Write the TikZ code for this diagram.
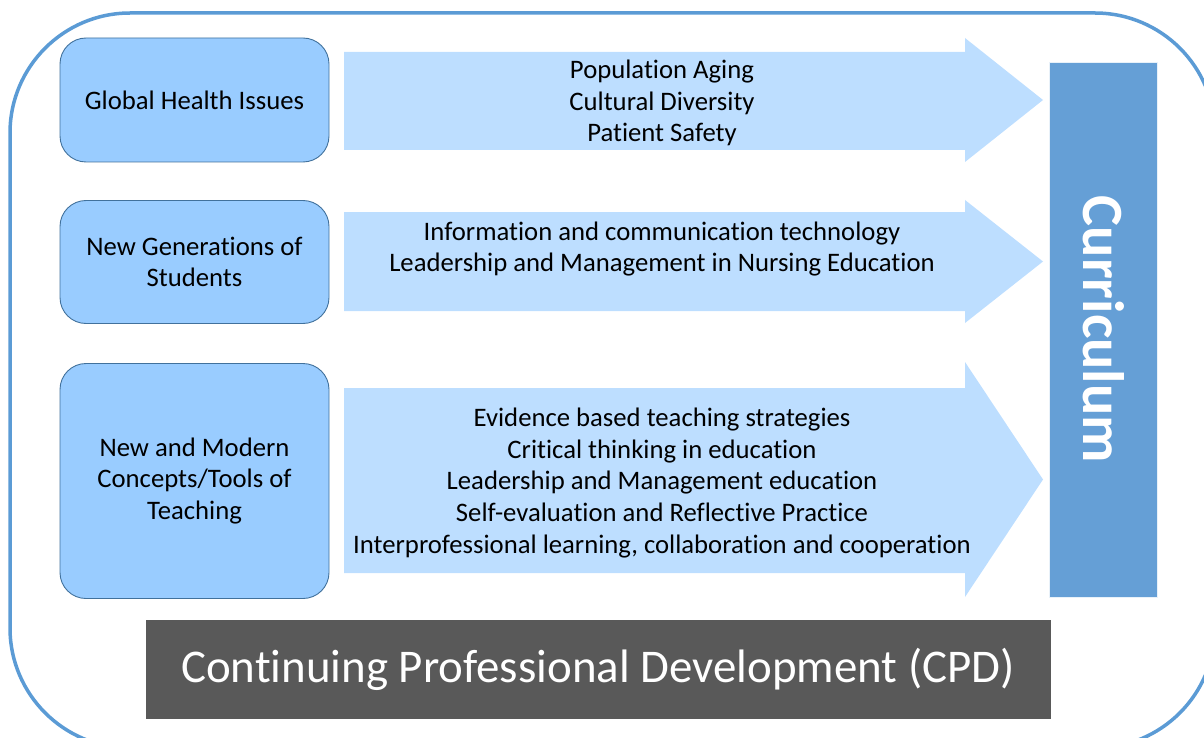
\documentclass[tikz,border=0pt]{standalone}
\usepackage{fontspec}
\setmainfont{Carlito}[Ligatures={NoCommon}]
\definecolor{framecol}{RGB}{91,155,213}
\definecolor{topicfill}{RGB}{153,204,255}
\definecolor{topicline}{RGB}{65,113,156}
\definecolor{bandfill}{RGB}{189,222,255}
\definecolor{currfill}{RGB}{101,159,214}
\definecolor{cpdfill}{RGB}{89,89,89}
\begin{document}
\begin{tikzpicture}[x=1pt,y=-1pt,
        every node/.style={font=\fontsize{26.7}{31.6}\selectfont,align=center,inner sep=0pt},
        topic/.style={fill=topicfill,draw=topicline,line width=0.9pt,rounded corners=26pt,minimum width=269pt},
        band/.style={fill=bandfill}]
    \useasboundingbox (0,0) rectangle (1204,738);
    \begin{scope}
        \clip (0,0) rectangle (1204,738);
        \draw [framecol,line width=3.5pt,rounded corners=120pt] (10,13) rectangle (1215,748);
    \end{scope}
    % block arrows: body top/bottom, head top/bottom
    \foreach \top/\bot/\htop/\hbot in {52/150/38/162,212/311/200/323,388/573/362/597}
        \fill [band] (344,\top) -- (965,\top) -- (965,\htop) -- (1043,{(\htop+\hbot)/2})
            -- (965,\hbot) -- (965,\bot) -- (344,\bot) -- cycle;
    \node [topic,minimum height=124pt] (Global) at (194.5,100) {Global Health Issues};
    \node [topic,minimum height=123pt] (Students) at (194.5,262) {New Generations of\\Students};
    \node [topic,minimum height=235pt] (Tools) at (194.5,481) {New and Modern\\Concepts/Tools of\\Teaching};
    \node (GlobalList) at (662,103) {Population Aging\\Cultural Diversity\\Patient Safety};
    \node (StudentsList) at (662,249) {Information and communication technology\\Leadership and Management in Nursing Education};
    \node (ToolsList) at (662,483) {Evidence based teaching strategies\\Critical thinking in education\\Leadership and Management education\\Self-evaluation and Reflective Practice\\Interprofessional learning, collaboration and cooperation};
    \node [fill=currfill,draw=white!85!currfill,line width=0.8pt,rotate=-90,minimum width=535pt,minimum height=108pt,
        text=white,font=\fontsize{58.4}{62}\selectfont\bfseries] (Curriculum) at (1103.5,329.5) {Curriculum};
    \node [fill=cpdfill,minimum width=905pt,minimum height=99pt,text=white,font=\fontsize{46.9}{52}\selectfont]
        (CPD) at (598,669.5) {Continuing Professional Development (CPD)};
\end{tikzpicture}
\end{document}
